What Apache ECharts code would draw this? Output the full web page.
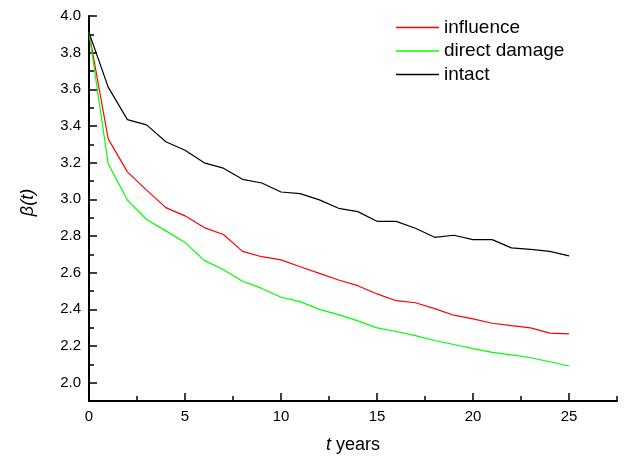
<!DOCTYPE html>
<html>
<head>
<meta charset="utf-8">
<script src="https://cdn.jsdelivr.net/npm/echarts@6/dist/echarts.min.js"></script>
<style>
    html, body { margin: 0; padding: 0; background: #fff; }
    #chart { width: 625px; height: 459px; }
</style>
</head>
<body>
<div id="chart"></div>
<script>
// years on the x axis
let years = [0, 1, 2, 3, 4, 5, 6, 7, 8, 9, 10, 11, 12, 13, 14, 15, 16, 17, 18, 19, 20, 21, 22, 23, 24, 25];

// reliability index beta(t) for each case
let influence = [3.91, 3.33, 3.15, 3.05, 2.955, 2.91, 2.846, 2.808, 2.716, 2.687, 2.67, 2.632, 2.596,
    2.56, 2.529, 2.484, 2.447, 2.436, 2.404, 2.368, 2.348, 2.324, 2.311, 2.299, 2.27, 2.266];
let directDamage = [3.91, 3.194, 2.996, 2.89, 2.828, 2.765, 2.667, 2.616, 2.553, 2.514, 2.466, 2.442, 2.4,
    2.371, 2.337, 2.299, 2.279, 2.257, 2.23, 2.208, 2.186, 2.165, 2.152, 2.136, 2.114, 2.091];
let intact = [3.91, 3.612, 3.435, 3.406, 3.314, 3.268, 3.199, 3.17, 3.109, 3.089, 3.04, 3.031, 2.997,
    2.951, 2.933, 2.88, 2.88, 2.842, 2.793, 2.804, 2.78, 2.78, 2.735, 2.727, 2.716, 2.692];

// series names and colours
let names = ['influence', 'direct damage', 'intact'];
let colors = ['#ff0000', '#00ff00', '#000000'];

// tick labels
let xTicks = [0, 5, 10, 15, 20, 25];
let yTicks = [2.0, 2.2, 2.4, 2.6, 2.8, 3.0, 3.2, 3.4, 3.6, 3.8, 4.0];

function pairs(values) {
    return values.map(function (v, i) { return [years[i], v]; });
}

function lineSeries(i, values) {
    return {
        name: names[i], type: 'line', data: pairs(values),
        xAxisIndex: 0, yAxisIndex: 0,
        symbol: 'none',
        itemStyle: { color: colors[i] },
        lineStyle: { width: 1.2, color: colors[i] }
    };
}

let chart = echarts.init(document.getElementById('chart'));
let font = 'Liberation Sans, Arial, sans-serif';

let option = {
    animation: false,
    color: colors,
    textStyle: { fontFamily: font },
    grid: { left: 89, right: 8, top: 16, bottom: 57 },
    legend: {
        orient: 'vertical',
        left: 396,
        top: 18,
        padding: 0,
        itemWidth: 43,
        itemHeight: 14,
        itemGap: 4.5,
        textStyle: { fontSize: 19, color: '#000', fontFamily: font },
        data: names.map(function (n, i) {
            return {
                name: n,
                icon: 'path://M0,0H43V1.6H0Z',
                itemStyle: { color: colors[i], borderWidth: 0 },
                lineStyle: { color: colors[i], width: 0 }
            };
        })
    },
    xAxis: [
        {
            type: 'value',
            min: 0,
            max: 27.5,
            position: 'bottom',
            name: '{i|t} years',
            nameLocation: 'middle',
            nameGap: 35,
            nameTextStyle: {
                fontSize: 18, color: '#000', fontFamily: font,
                rich: { i: { fontStyle: 'italic', fontSize: 18, fontFamily: font } }
            },
            axisLine: { show: true, lineStyle: { color: '#000', width: 2 } },
            axisTick: { show: true, inside: true, length: 8, lineStyle: { color: '#000', width: 1.5 }, customValues: xTicks },
            axisLabel: { fontSize: 15, color: '#000', margin: 8, customValues: xTicks },
            splitLine: { show: false }
        },
        {
            // minor ticks every 2.5 years
            type: 'value',
            min: 0,
            max: 27.5,
            interval: 2.5,
            position: 'bottom',
            axisLine: { show: false },
            axisTick: { show: true, inside: true, length: 5, lineStyle: { color: '#000', width: 1.5 } },
            axisLabel: { show: false },
            splitLine: { show: false }
        }
    ],
    yAxis: [
        {
            type: 'value',
            min: 1.9,
            max: 4.0,
            position: 'left',
            name: 'β(t)',
            nameLocation: 'middle',
            nameGap: 52,
            nameTextStyle: { fontSize: 18, color: '#000', fontStyle: 'italic', fontFamily: font, padding: [0, 0, 0, 12] },
            axisLine: { show: true, lineStyle: { color: '#000', width: 2 } },
            axisTick: { show: true, inside: true, length: 8, lineStyle: { color: '#000', width: 1.5 }, customValues: yTicks },
            axisLabel: {
                fontSize: 15, color: '#000', margin: 8, customValues: yTicks,
                formatter: function (v) { return v.toFixed(1); }
            },
            splitLine: { show: false }
        },
        {
            // minor ticks every 0.1
            type: 'value',
            min: 1.9,
            max: 4.0,
            interval: 0.1,
            position: 'left',
            axisLine: { show: false },
            axisTick: { show: true, inside: true, length: 5, lineStyle: { color: '#000', width: 1.5 } },
            axisLabel: { show: false },
            splitLine: { show: false }
        }
    ],
    series: [
        lineSeries(0, influence),
        lineSeries(1, directDamage),
        lineSeries(2, intact)
    ]
};

option && chart.setOption(option);
</script>
</body>
</html>
